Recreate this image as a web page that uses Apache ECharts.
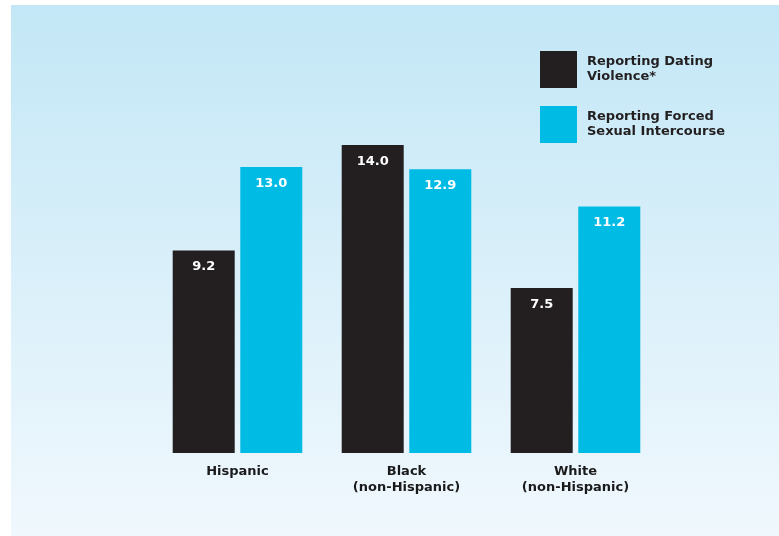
<!DOCTYPE html>
<html><head><meta charset="utf-8">
<script src="https://cdn.jsdelivr.net/npm/echarts@6/dist/echarts.min.js"></script>
<style>html,body{margin:0;padding:0;background:#fff}#c{width:779px;height:536px}</style>
</head><body><div id="c"></div>
<script>
var categories = ['Hispanic', 'Black\n(non-Hispanic)', 'White\n(non-Hispanic)'];
var datingViolence = [9.2, 14.0, 7.5];
var forcedIntercourse = [13.0, 12.9, 11.2];
var seriesNames = ['Reporting Dating\nViolence*', 'Reporting Forced\nSexual Intercourse'];

var chart = echarts.init(document.getElementById('c'), null, {renderer: 'canvas'});
var font = 'DejaVu Sans';
var labelCfg = {
  show: true, position: 'insideTop', distance: 10, color: '#ffffff',
  fontFamily: font, fontWeight: 'bold', fontSize: 13,
  formatter: function (p) { return p.value.toFixed(1); }
};
chart.setOption({
  backgroundColor: '#ffffff',
  animation: false,
  graphic: [{
    type: 'rect', z: -10, silent: true,
    shape: {x: 11, y: 5, width: 768, height: 531},
    style: {fill: new echarts.graphic.LinearGradient(0, 0, 0, 1, [
      {offset: 0, color: '#c3e7f6'},
      {offset: 1, color: '#f0f8fd'}
    ])}
  }],
  legend: {
    orient: 'vertical', left: 540, top: 51, padding: 0,
    itemWidth: 37, itemHeight: 37, itemGap: 18,
    icon: 'rect',
    textStyle: {fontFamily: font, fontWeight: 'bold', fontSize: 13, color: '#231f20',
      lineHeight: 15, padding: [0, 0, 4, 5]},
    data: seriesNames
  },
  grid: {left: 153, right: 119, top: 13, bottom: 83, containLabel: false},
  xAxis: {
    type: 'category', data: categories,
    axisLine: {show: false}, axisTick: {show: false},
    axisLabel: {margin: 11, fontFamily: font, fontWeight: 'bold', fontSize: 13,
      color: '#1a1a1a', lineHeight: 16, verticalAlign: 'top'}
  },
  yAxis: {type: 'value', min: 0, max: 20, show: false, splitLine: {show: false}},
  series: [
    {name: seriesNames[0], type: 'bar', data: datingViolence, barWidth: 62, barGap: '9%',
      itemStyle: {color: '#231f20'}, label: labelCfg},
    {name: seriesNames[1], type: 'bar', data: forcedIntercourse, barWidth: 62,
      itemStyle: {color: '#00bbe4'}, label: labelCfg}
  ]
});
</script></body></html>
